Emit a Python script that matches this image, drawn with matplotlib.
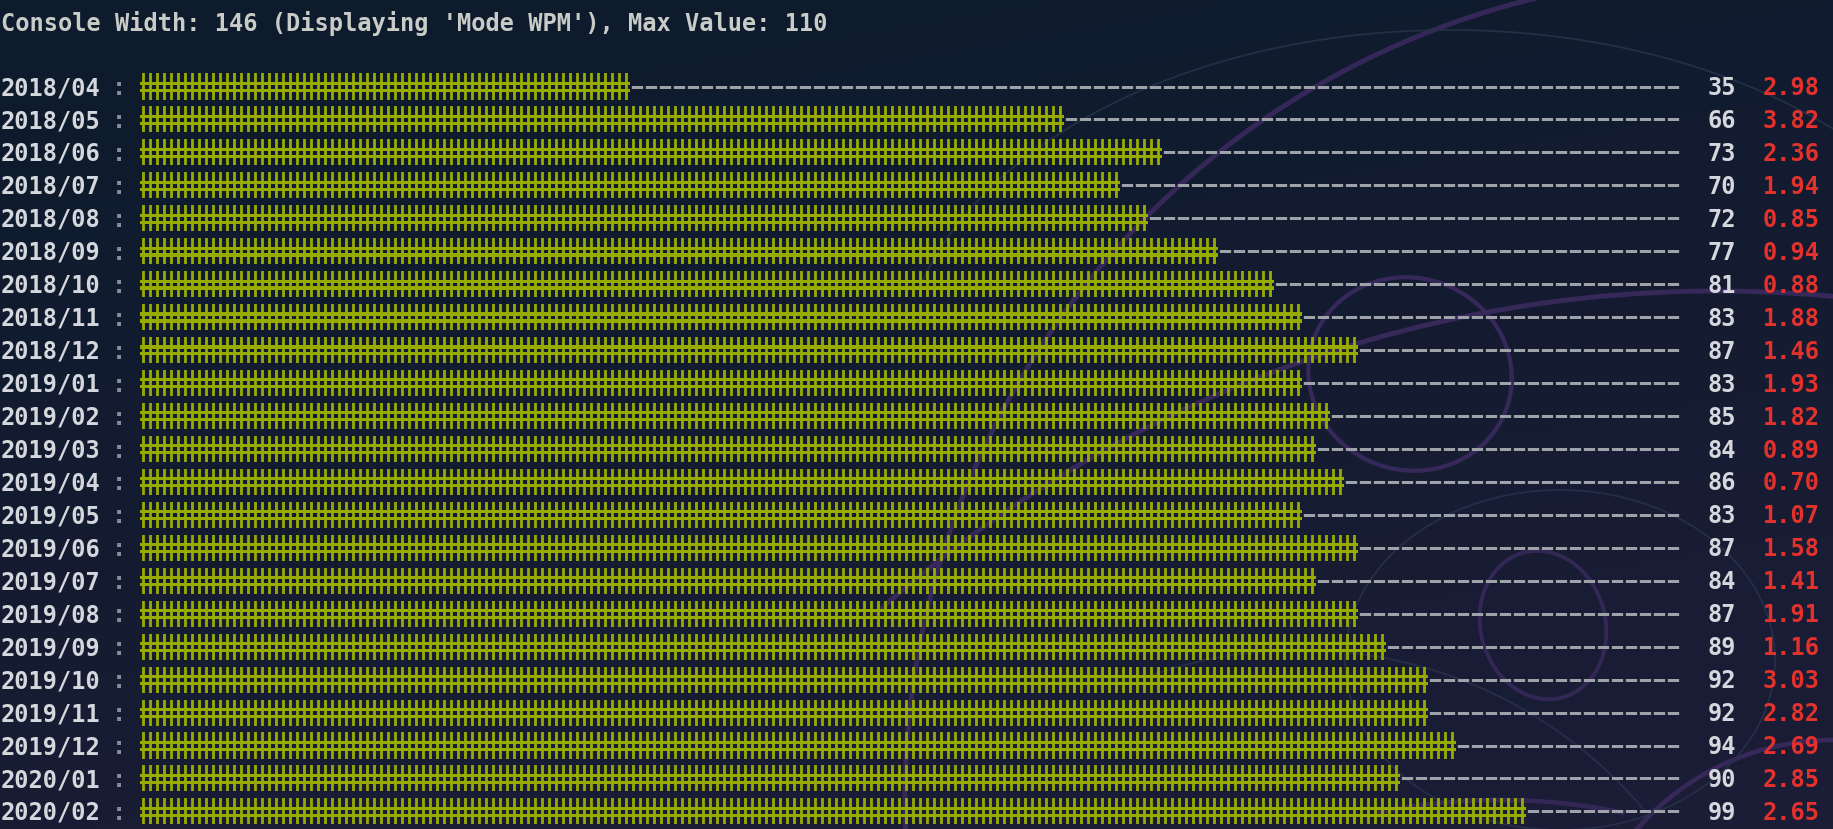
import numpy as np
import matplotlib
matplotlib.use("Agg")
import matplotlib.pyplot as plt
from matplotlib.transforms import blended_transform_factory
from matplotlib.patches import Ellipse, Arc

# ---------------- data ----------------
months = ["2018/04", "2018/05", "2018/06", "2018/07", "2018/08", "2018/09",
          "2018/10", "2018/11", "2018/12", "2019/01", "2019/02", "2019/03",
          "2019/04", "2019/05", "2019/06", "2019/07", "2019/08", "2019/09",
          "2019/10", "2019/11", "2019/12", "2020/01", "2020/02"]
mode_wpm = [35, 66, 73, 70, 72, 77, 81, 83, 87, 83, 85, 84, 86, 83, 87, 84,
            87, 89, 92, 92, 94, 90, 99]
spread = [2.98, 3.82, 2.36, 1.94, 0.85, 0.94, 0.88, 1.88, 1.46, 1.93, 1.82,
          0.89, 0.70, 1.07, 1.58, 1.41, 1.91, 1.16, 3.03, 2.82, 2.69, 2.85, 2.65]
max_value = 110
console_width = 146
title = f"Console Width: {console_width} (Displaying 'Mode WPM'), Max Value: {max_value}"

# ---------------- style ----------------
DPI = 126
W, H = 1833, 829
bar_color = "#98ac00"
dash_color = "#9ea3a9"
label_color = "#d4d7db"
colon_color = "#858d97"
red_color = "#e3312c"
title_color = "#c9cbc6"
FONT = ["DejaVu Sans Mono"]
FS = 13.5

plt.rcParams["hatch.linewidth"] = 1.6
plt.rcParams["lines.scale_dashes"] = False

fig = plt.figure(figsize=(W / DPI, H / DPI), dpi=DPI)

# background gradient + faint wallpaper curves
bg = fig.add_axes([0, 0, 1, 1])
bg.set_axis_off()
yy, xx = np.mgrid[0:1:80j, 0:1:80j]
top = np.array([0x0e, 0x1b, 0x2d]) / 255
bot = np.array([0x1c, 0x1d, 0x37]) / 255
t = np.clip(yy * 0.8 + xx * 0.3 - 0.1, 0, 1)
img = top + (bot - top) * t[..., None]
bg.imshow(img, extent=[0, W, H, 0], aspect="auto", interpolation="bilinear")
bg.set_xlim(0, W)
bg.set_ylim(H, 0)
curve = "#3a2a5e"
thin = "#26324a"
# thick purple curves
bg.add_patch(Arc((1730, 800), 1650, 1650, theta1=176, theta2=258, ec=curve, lw=2.8, alpha=0.9))
bg.add_patch(Arc((1717, 1549), 2516, 2516, theta1=228, theta2=280, ec=curve, lw=2.8, alpha=0.9))
bg.add_patch(Ellipse((1410, 374), 205, 192, angle=20, fill=False, ec=curve, lw=2.4, alpha=0.9))
bg.add_patch(Ellipse((1543, 625), 125, 150, angle=-15, fill=False, ec=curve, lw=2.2, alpha=0.8))
bg.add_patch(Arc((1833, 1000), 520, 520, theta1=180, theta2=270, ec=curve, lw=2.6, alpha=0.9))
bg.add_patch(Arc((1500, 1400), 1200, 1200, theta1=258, theta2=282, ec=curve, lw=2.6, alpha=0.8))
# faint thin curves
bg.add_patch(Ellipse((1560, 660), 430, 340, fill=False, ec=thin, lw=1.0, alpha=0.9))
bg.add_patch(Arc((1450, 380), 1100, 700, theta1=190, theta2=330, ec=thin, lw=1.0, alpha=0.9))
bg.add_patch(Arc((1300, 1100), 900, 900, theta1=250, theta2=320, ec=thin, lw=1.0, alpha=0.9))

# ---------------- chart axes ----------------
left_px, right_px = 140, 1680
row0, rowh = 86.5, 32.95
n = len(months)
top_px = row0 - rowh / 2
bot_px = top_px + rowh * n
ax = fig.add_axes([left_px / W, 1 - bot_px / H,
                   (right_px - left_px) / W, (bot_px - top_px) / H])
ax.set_xlim(0, max_value)
ax.set_ylim(n - 0.5, -0.5)
ax.set_axis_off()
ax.patch.set_alpha(0)

y = np.arange(n)
# '#' glyph look: vertical hatch strokes + two horizontal strokes
ax.barh(y, mode_wpm, height=0.79, left=0, facecolor="none",
        edgecolor=bar_color, linewidth=0, hatch="|||")
for off in (-0.095, 0.115):
    ax.barh(y + off, mode_wpm, height=0.095, color=bar_color, linewidth=0)

# dashed remainder up to max value
ax.hlines(y, mode_wpm, max_value, colors=dash_color, linewidth=1.71,
          linestyles=[(7.23, (6.46, 1.54))])

trans = blended_transform_factory(fig.transFigure, ax.transData)
base = 0.26
for i, (m, v, s) in enumerate(zip(months, mode_wpm, spread)):
    ax.text(1 / W, i + base, m, transform=trans, ha="left", va="baseline",
            family=FONT, fontsize=FS, fontweight="bold", color=label_color)
    ax.text(119 / W, i + base, ":", transform=trans, ha="center", va="baseline",
            family=FONT, fontsize=FS, fontweight="bold", color=colon_color)
    ax.text(1736 / W, i + base, f"{v}", transform=trans, ha="right", va="baseline",
            family=FONT, fontsize=FS, fontweight="bold", color=label_color)
    ax.text(1820 / W, i + base, f"{s:.2f}", transform=trans, ha="right", va="baseline",
            family=FONT, fontsize=FS, fontweight="bold", color=red_color)

fig.text(1 / W, 1 - 30.5 / H, title, ha="left", va="baseline",
         family=FONT, fontsize=FS, fontweight="bold", color=title_color)

fig.savefig("out.png", dpi=DPI)
